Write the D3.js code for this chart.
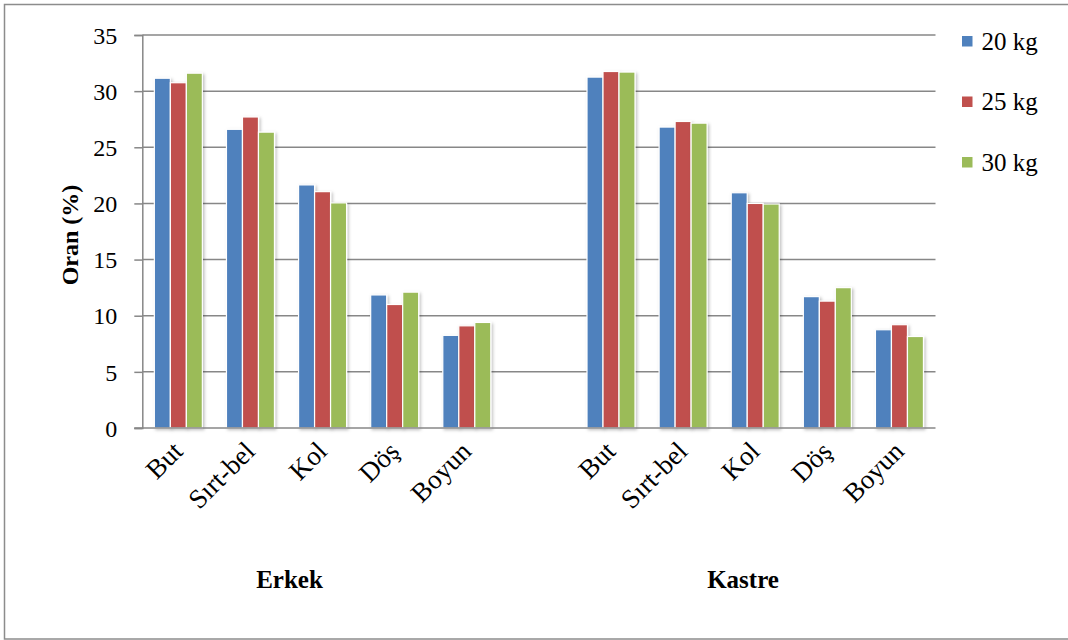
<!DOCTYPE html>
<html>
<head>
<meta charset="utf-8">
<script src="https://cdn.jsdelivr.net/npm/d3@7"></script>
<style>
  html, body { margin: 0; padding: 0; background: #fff; }
  svg { display: block; }
  text { font-family: "Liberation Serif", "Times New Roman", serif; fill: #000; }
</style>
</head>
<body>
<svg id="chart" width="1068" height="640" font-family="Liberation Serif"></svg>
<script>
const groups = ["Erkek", "Kastre"];
const parts = ["But", "Sırt-bel", "Kol", "Döş", "Boyun"];
const seriesNames = ["20 kg", "25 kg", "30 kg"];
const colors = ["#4F81BD", "#C0504D", "#9BBB59"];
const yTicks = [0, 5, 10, 15, 20, 25, 30, 35];

// values per series: Erkek (But, Sırt-bel, Kol, Döş, Boyun), then Kastre
const erkek20 = [31.15, 26.6, 21.65, 11.85, 8.25];
const erkek25 = [30.75, 27.7, 21.05, 11.0, 9.1];
const erkek30 = [31.6, 26.35, 20.05, 12.1, 9.4];
const kastre20 = [31.25, 26.8, 20.95, 11.7, 8.75];
const kastre25 = [31.75, 27.3, 20.0, 11.3, 9.2];
const kastre30 = [31.7, 27.15, 19.95, 12.5, 8.15];

const valuesByGroup = {
  "Erkek": [erkek20, erkek25, erkek30],
  "Kastre": [kastre20, kastre25, kastre30]
};

// slots: 5 parts for Erkek, one empty slot, 5 parts for Kastre
const slots = [];
groups.forEach((g, gi) => {
  parts.forEach(p => slots.push({ key: g + "|" + p, group: g, part: p }));
  if (gi === 0) slots.push({ key: "gap", group: null, part: "" });
});

const rows = [];
slots.forEach(s => {
  if (!s.group) return;
  const pi = parts.indexOf(s.part);
  seriesNames.forEach((sn, si) => {
    rows.push({ key: s.key, series: sn, si, value: valuesByGroup[s.group][si][pi] });
  });
});

const svg = d3.select("#chart");
const plot = { left: 142.3, right: 935.5, top: 35, bottom: 428 };

const x0 = d3.scaleBand().domain(slots.map(s => s.key)).range([plot.left, plot.right]).paddingInner(0).paddingOuter(0);
const groupW = 48;
const x1 = d3.scaleBand().domain(seriesNames).range([0, groupW]).padding(0);
const y = d3.scaleLinear().domain([0, 35]).range([plot.bottom, plot.top]);

// outer border
svg.append("rect").attr("x", 4.5).attr("y", 4.5).attr("width", 1070).attr("height", 634.5)
  .attr("fill", "none").attr("stroke", "#8c8c8c").attr("stroke-width", 1.5);

// defs shadow
const defs = svg.append("defs");
const f = defs.append("filter").attr("id", "shadow").attr("x", "-20%").attr("y", "-5%").attr("width", "150%").attr("height", "115%");
f.append("feDropShadow").attr("dx", 1.5).attr("dy", 1.5).attr("stdDeviation", 1.5).attr("flood-color", "#000").attr("flood-opacity", 0.25);

// gridlines
svg.append("g").selectAll("line").data(yTicks.filter(t => t > 0)).join("line")
  .attr("x1", plot.left).attr("x2", plot.right)
  .attr("y1", d => y(d)).attr("y2", d => y(d))
  .attr("stroke", "#878787").attr("stroke-width", 1.5);

// y axis
const yAxis = svg.append("g").attr("transform", `translate(${plot.left},0)`)
  .call(d3.axisLeft(y).tickValues(yTicks).tickSize(8).tickPadding(17).tickFormat(d3.format("d")));
yAxis.attr("font-family", "Liberation Serif");
yAxis.select(".domain").attr("stroke", "#878787").attr("stroke-width", 1.5);
yAxis.selectAll(".tick line").attr("stroke", "#878787").attr("stroke-width", 1.5);
yAxis.selectAll(".tick text").attr("font-size", 24).attr("fill", "#000").attr("dy", "0.34em");

// bars
svg.append("g").selectAll("rect").data(rows).join("rect")
  .attr("x", d => x0(d.key) + x0.bandwidth() / 2 - groupW / 2 + x1(d.series))
  .attr("width", x1.bandwidth())
  .attr("y", d => y(d.value))
  .attr("height", d => y(0) - y(d.value))
  .attr("fill", d => colors[d.si])
  .attr("stroke", "#fff").attr("stroke-width", 1.2)
  .attr("filter", "url(#shadow)");

// x axis line
svg.append("line").attr("x1", plot.left - 8).attr("x2", plot.right)
  .attr("y1", y(0)).attr("y2", y(0)).attr("stroke", "#878787").attr("stroke-width", 1.5);

// x category labels
svg.append("g").selectAll("text").data(slots.filter(s => s.group)).join("text")
  .attr("transform", s => `translate(${x0(s.key) + x0.bandwidth() / 2 + 6},${plot.bottom + 25}) rotate(-45)`)
  .attr("text-anchor", "end")
  .attr("font-size", 27)
  .text(s => s.part);

// group labels
const groupCenters = { "Erkek": 289.5, "Kastre": 743 };
svg.append("g").selectAll("text").data(groups).join("text")
  .attr("x", g => groupCenters[g]).attr("y", 588)
  .attr("text-anchor", "middle").attr("font-weight", "bold").attr("font-size", 25)
  .text(g => g);

// y title
svg.append("text").attr("transform", "translate(78,235) rotate(-90)")
  .attr("text-anchor", "middle").attr("font-weight", "bold").attr("font-size", 24)
  .text("Oran (%)");

// legend
const leg = svg.append("g").selectAll("g").data(seriesNames).join("g")
  .attr("transform", (d, i) => `translate(962,${41 + i * 60.5})`);
leg.append("rect").attr("x", 0).attr("y", -5).attr("width", 10.5).attr("height", 10.5)
  .attr("fill", (d, i) => colors[i]);
leg.append("text").attr("x", 19.5).attr("y", 0).attr("dy", "0.34em").attr("font-size", 25).text(d => d);
</script>
</body>
</html>
